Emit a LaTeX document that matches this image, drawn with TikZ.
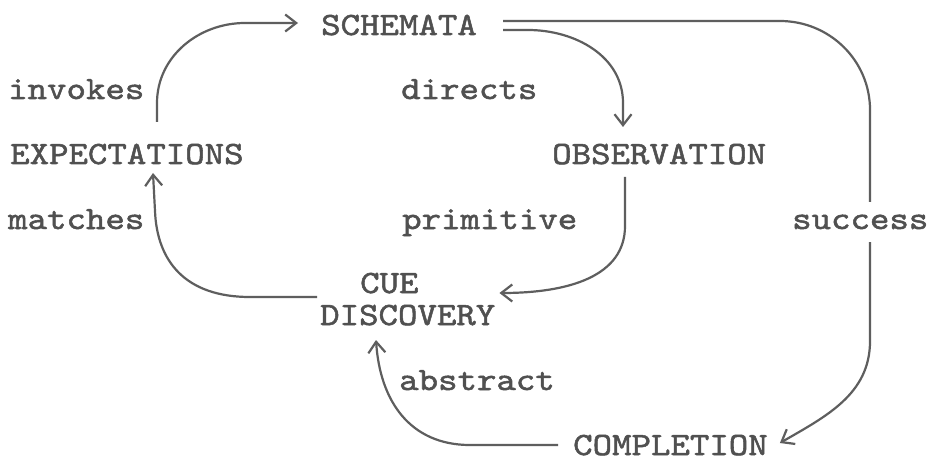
\documentclass[tikz,border=0pt]{standalone}
\usepackage{fontspec}
\usepackage{tikz}
\usetikzlibrary{arrows.meta,positioning,calc}
\newfontfamily\typefont{lmmono10-regular.otf}[FakeStretch=1.14,FakeBold=1.6]
\definecolor{Ink}{HTML}{505050}
\definecolor{Stroke}{HTML}{5E5E5E}
\tikzset{
  word/.style={font=\typefont\fontsize{32.5}{39}\selectfont,text=Ink,inner sep=0pt,anchor=base west},
  flow/.style={draw=Stroke,line width=2.2pt,-{Straight Barb[length=11pt,width=17pt]}}
}

\begin{document}
\begin{tikzpicture}[x=1pt,y=1pt]
        \useasboundingbox[fill=white] (0,0) rectangle (933,461);
        \node[word] (schemata) at (321,426) {SCHEMATA};
        \node[word] (invokes) at (8,362) {invokes};
        \node[word] (directs) at (401,362) {directs};
        \node[word] (expect) at (10,297) {EXPECTATIONS};
        \node[word] (obs) at (552,297) {OBSERVATION};
        \node[word] (matches) at (8,232) {matches};
        \node[word] (primitive) at (402,232) {primitive};
        \node[word] (cue) at (360,168) {CUE};
        \node[word] (disc) at (320,136) {DISCOVERY};
        \node[word] (abstract) at (399,71) {abstract};
        \node[word] (completion) at (573,6) {COMPLETION};
        % loop round the top
        \draw[flow] ($(expect.base west)+(147,42)$) -- ++(0,19)
          to[out=90,in=180] ($(schemata.base west)+(-76,12)$) -- ($(schemata.base west)+(-23,12)$);
        \draw[flow] ($(schemata.base east)+(26,5)$) -- ++(25,0)
          to[out=0,in=90] ($(obs.base west)+(71,61)$) -- ($(obs.base west)+(71,37)$);
        \draw[flow] ($(obs.base west)+(73,-13)$) -- ++(0,-49)
          .. controls +(0,-50) and +(70,0) .. ($(disc.base east)+(4,32)$);
        \draw[flow] ($(disc.base west)+(-3,28)$) -- ++(-67,0)
          .. controls +(-65,0) and +(2,-50) .. ($(expect.base west)+(145,-47)$) -- ($(expect.base west)+(143,-9)$);
        % outer loop
        \draw[flow] ($(schemata.base east)+(26,14)$) -- ++(277,0)
          to[out=0,in=90] ++(90,-89) -- ++(0,-231)
          to[out=-90,in=30] ($(completion.base east)+(12,12)$);
        \node[word,fill=white,inner ysep=13pt] (success) at (792,232) {success};
        \draw[flow] ($(completion.base west)+(-15,10)$) -- ++(-88,0)
          .. controls +(-60,0) and +(4,-61) .. ($(disc.base west)+(56,-15)$);
\end{tikzpicture}
\end{document}
